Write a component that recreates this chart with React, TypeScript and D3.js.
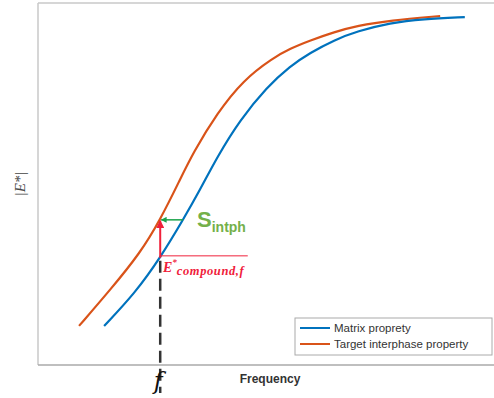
import React from "react";
import * as d3 from "d3";

// log-frequency (arbitrary units) vs normalized |E*|
const matrixX = [1.45, 2.13, 2.68, 3.18, 3.55, 3.93, 4.43, 5.02, 5.53, 5.96, 6.5, 7.0, 7.72, 8.44, 9.36];
const matrixY = [0.108, 0.199, 0.296, 0.401, 0.483, 0.575, 0.677, 0.768, 0.826, 0.862, 0.898, 0.922, 0.945, 0.956, 0.961];
const targetX = [0.9, 1.58, 2.24, 2.68, 3.11, 3.4, 3.93, 4.5, 5.15, 5.53, 5.96, 6.5, 7.0, 7.72, 8.82];
const targetY = [0.108, 0.207, 0.309, 0.401, 0.511, 0.586, 0.696, 0.787, 0.848, 0.874, 0.896, 0.92, 0.937, 0.952, 0.964];
const seriesNames = ["Matrix proprety", "Target interphase property"];
const fValue = 2.68;
const fMatrixY = 0.296;
const fTargetY = 0.401;
const shiftFromX = 3.18;
const eLineEndX = 4.6;

const W = 494;
const H = 398;
const left = 38, top = 3, right = 494, bottom = 365;

export default function App() {
  const x = d3.scaleLinear().domain([0, 10]).range([left, right]);
  const y = d3.scaleLinear().domain([0, 1]).range([bottom, top]);
  const line = d3
    .line<[number, number]>()
    .x((d) => x(d[0]))
    .y((d) => y(d[1]))
    .curve(d3.curveBasis);
  const mData = matrixX.map((v, i) => [v, matrixY[i]] as [number, number]);
  const tData = targetX.map((v, i) => [v, targetY[i]] as [number, number]);
  const blue = "#0072BD";
  const orange = "#D95319";
  const red = "#F0203A";
  const green = "#1aa34a";
  const fx = x(fValue);
  return (
    <svg
      width={W}
      height={H}
      style={{ position: "absolute", left: 0, top: 0, background: "#fff" }}
    >
      <defs>
        <marker id="redHead" viewBox="0 0 10 10" refX="9" refY="5" markerWidth="4" markerHeight="4" orient="auto">
          <path d="M0,0 L10,5 L0,10 z" fill={red} />
        </marker>
        <marker id="greenHead" viewBox="0 0 10 10" refX="9" refY="5" markerWidth="4" markerHeight="4" orient="auto">
          <path d="M0,0 L10,5 L0,10 z" fill={green} />
        </marker>
      </defs>
      {/* box */}
      <line x1={left} x2={left} y1={top} y2={bottom} stroke="#c8c8c8" strokeWidth={1.5} />
      <line x1={left} x2={W} y1={top} y2={top} stroke="#c8c8c8" strokeWidth={1.5} />
      <line x1={left} x2={W} y1={bottom} y2={bottom} stroke="#aaaaaa" strokeWidth={1.5} />
      {/* dashed f line */}
      <line x1={fx} x2={fx} y1={y(fMatrixY) + 3} y2={393} stroke="#333" strokeWidth={2.5} strokeDasharray="12,6" />
      {/* curves */}
      <path d={line(tData) || ""} fill="none" stroke={orange} strokeWidth={2.2} />
      <path d={line(mData) || ""} fill="none" stroke={blue} strokeWidth={2.2} />
      {/* red E line */}
      <line x1={fx} x2={x(eLineEndX)} y1={y(fMatrixY) - 2} y2={y(fMatrixY) - 2} stroke={red} strokeWidth={1} />
      {/* red arrow */}
      <line x1={fx} x2={fx} y1={y(fMatrixY)} y2={y(fTargetY) + 1} stroke={red} strokeWidth={2} markerEnd="url(#redHead)" />
      {/* green arrow */}
      <line x1={x(shiftFromX)} x2={fx + 1} y1={y(fTargetY)} y2={y(fTargetY)} stroke={green} strokeWidth={1.5} markerEnd="url(#greenHead)" />
      {/* S_intph */}
      <text x={197} y={227} fill="#74b04a" fontFamily="Liberation Sans, Arial, sans-serif" fontWeight="bold">
        <tspan fontSize={22}>S</tspan>
        <tspan fontSize={14} dy={5}>intph</tspan>
      </text>
      {/* E*compound,f */}
      <text x={163} y={272} fill={red} fontFamily="Liberation Serif, Times New Roman, serif" fontWeight="bold" fontStyle="italic">
        <tspan fontSize={14}>E</tspan>
        <tspan fontSize={9} dy={-7}>*</tspan>
        <tspan fontSize={12.5} dx={0} dy={10} letterSpacing={0.6}>compound,f</tspan>
      </text>
      {/* f label */}
      <text x={fx - 2} y={389} textAnchor="middle" fontFamily="DejaVu Serif, serif" fontStyle="italic" fontSize={24} fill="#111">
        f
      </text>
      {/* x label */}
      <text x={270} y={383} textAnchor="middle" fontFamily="Liberation Sans, Arial, sans-serif" fontWeight="bold" fontSize={12} fill="#333">
        Frequency
      </text>
      {/* y label */}
      <text
        transform={`translate(25,184) rotate(-90)`}
        textAnchor="middle"
        fontFamily="Liberation Serif, Times New Roman, serif"
        fontStyle="italic"
        fontSize={15}
        fill="#444"
      >
        |E*|
      </text>
      {/* legend */}
      <rect x={295} y={318} width={197} height={37} fill="#fff" stroke="#aaa" strokeWidth={1} />
      {seriesNames.map((name, i) => (
        <g key={name}>
          <line x1={300} x2={330} y1={328 + i * 16} y2={328 + i * 16} stroke={i === 0 ? blue : orange} strokeWidth={2} />
          <text x={334} y={332 + i * 16} fontFamily="Liberation Sans, Arial, sans-serif" fontSize={11.5} fill="#333">
            {name}
          </text>
        </g>
      ))}
    </svg>
  );
}
